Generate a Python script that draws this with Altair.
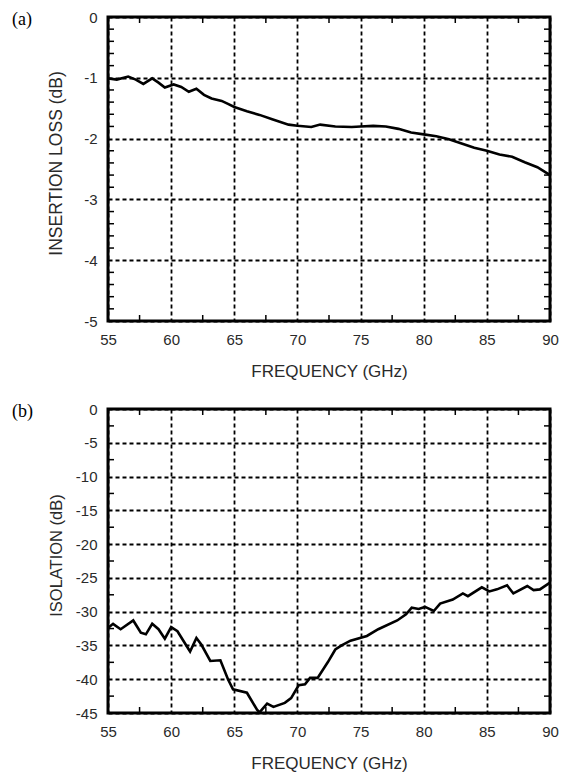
import altair as alt
import pandas as pd

# ---------------- data ----------------
freq_a = [55, 55.7, 56.6, 57.2, 57.8, 58.5, 59.0, 59.5, 60.2, 60.8, 61.4, 62.0, 62.6, 63.2,
          64.0, 64.5, 65.0, 66.0, 67.0, 68.0, 69.3, 70.0, 71.1, 71.8, 73.0, 74.3, 75.0, 76.0,
          77.0, 78.0, 79.0, 80.0, 81.0, 82.0, 83.0, 84.0, 85.0, 86.0, 87.0, 88.0, 89.0, 90.0]
loss_a = [-1.01, -1.03, -0.98, -1.03, -1.10, -1.01, -1.08, -1.16, -1.11, -1.15, -1.23, -1.18,
          -1.28, -1.34, -1.38, -1.43, -1.48, -1.55, -1.61, -1.68, -1.77, -1.79, -1.81, -1.77,
          -1.80, -1.81, -1.80, -1.79, -1.80, -1.84, -1.90, -1.93, -1.96, -2.01, -2.08, -2.15,
          -2.20, -2.26, -2.30, -2.39, -2.47, -2.60]

freq_b = [55.0, 55.4, 56.0, 57.0, 57.6, 58.0, 58.5, 59.0, 59.5, 60.0, 60.5, 61.3, 61.5, 62.0,
          62.4, 63.1, 63.9, 64.5, 64.9, 66.0, 66.8, 67.0, 67.6, 68.1, 69.0, 69.5, 70.1, 70.6,
          71.0, 71.6, 72.4, 73.0, 73.5, 74.2, 75.5, 76.4, 77.9, 78.6, 79.05, 79.6, 80.1, 80.8,
          81.3, 82.3, 83.1, 83.5, 84.6, 85.2, 85.8, 86.6, 87.1, 88.2, 88.7, 89.2, 90.0]
iso_b = [-32.4, -31.8, -32.6, -31.3, -33.1, -33.35, -31.8, -32.6, -34.0, -32.3, -32.9, -35.3,
         -35.9, -33.9, -34.9, -37.3, -37.2, -40.0, -41.5, -42.0, -44.5, -44.9, -43.6, -44.1,
         -43.5, -42.8, -40.9, -40.75, -39.8, -39.8, -37.5, -35.6, -35.0, -34.3, -33.6, -32.6,
         -31.3, -30.4, -29.4, -29.6, -29.3, -29.9, -28.8, -28.2, -27.3, -27.7, -26.4, -27.0,
         -26.7, -26.1, -27.3, -26.2, -26.8, -26.7, -25.7]

x_ticks = [55, 60, 65, 70, 75, 80, 85, 90]
x_minor = [57.5, 62.5, 67.5, 72.5, 77.5, 82.5, 87.5]
y_ticks_a = [0, -1, -2, -3, -4, -5]
y_minor_a = [-0.2, -0.4, -0.6, -0.8, -1.2, -1.4, -1.6, -1.8, -2.2, -2.4, -2.6, -2.8,
             -3.2, -3.4, -3.6, -3.8, -4.2, -4.4, -4.6, -4.8]
y_ticks_b = [0, -5, -10, -15, -20, -25, -30, -35, -40, -45]
y_minor_b = [-2.5, -7.5, -12.5, -17.5, -22.5, -27.5, -32.5, -37.5, -42.5]

W, H = 442, 304
FONT = "Liberation Sans"
TXT = "#2a2a2a"
LBL = "'' + datum.value"


def panel(freq, vals, ydom, yticks, yminor, ytitle, tag, tsize):
    df = pd.DataFrame({"f": freq, "v": vals})
    xs = alt.Scale(domain=[55, 90], nice=False, zero=False)
    ys = alt.Scale(domain=ydom, nice=False, zero=False)
    xax = alt.Axis(values=x_ticks, tickCount=len(x_ticks), title="FREQUENCY (GHz)",
                   titleY=50, titleBaseline="middle",
                   labelExpr=LBL, labelOverlap=False, labelFlush=False)
    yax = alt.Axis(values=yticks, tickCount=len(yticks), title=ytitle, titleX=-52,
                   titleY=H / 2 - 6, titleBaseline="middle", titleAngle=-90, titleAlign="center",
                   labelExpr=LBL, labelOverlap=False, labelFlush=False, titleFontSize=tsize)
    line = alt.Chart(df).mark_line(color="black", strokeWidth=2.6, clip=True).encode(
        x=alt.X("f:Q", scale=xs, axis=xax),
        y=alt.Y("v:Q", scale=ys, axis=yax),
    )
    dfx = pd.DataFrame({"f": x_minor})
    dfy = pd.DataFrame({"v": yminor})
    tk = dict(color="black", strokeWidth=1.5)
    t1 = alt.Chart(dfx).mark_rule(**tk).encode(x=alt.X("f:Q", scale=xs), y=alt.value(0), y2=alt.value(6))
    t2 = alt.Chart(dfx).mark_rule(**tk).encode(x=alt.X("f:Q", scale=xs), y=alt.value(H), y2=alt.value(H - 6))
    t3 = alt.Chart(dfy).mark_rule(**tk).encode(y=alt.Y("v:Q", scale=ys), x=alt.value(0), x2=alt.value(6))
    t4 = alt.Chart(dfy).mark_rule(**tk).encode(y=alt.Y("v:Q", scale=ys), x=alt.value(W), x2=alt.value(W - 6))
    lab = alt.Chart(pd.DataFrame({"t": [tag]})).mark_text(
        font="Liberation Serif", fontSize=18, align="left", baseline="middle", color="black"
    ).encode(text="t:N", x=alt.value(-96), y=alt.value(3))
    return alt.layer(line, t1, t2, t3, t4, lab).properties(width=W, height=H)


top = panel(freq_a, loss_a, [-5, 0], y_ticks_a, y_minor_a, "INSERTION LOSS (dB)", "(a)", 17.5)
bot = panel(freq_b, iso_b, [-45, 0], y_ticks_b, y_minor_b, "ISOLATION (dB)", "(b)", 16.5)

chart = alt.vconcat(top, bot, spacing=19).properties(
    autosize=alt.AutoSizeParams(type="pad"),
    padding={"left": 2, "top": 0, "right": 0, "bottom": 0},
).configure_view(
    stroke="black", strokeWidth=3
).configure_axis(
    grid=True, gridColor="black", gridDash=[4, 3], gridWidth=1.8, gridOpacity=1,
    domain=False, ticks=False,
    labelFont=FONT, labelFontSize=15, labelColor=TXT, labelPadding=11,
    titleFont=FONT, titleFontSize=17, titleFontWeight="normal", titleColor=TXT,
).configure_concat(spacing=19)

chart.save("out.html", embed_options={"renderer": "svg", "actions": False})
